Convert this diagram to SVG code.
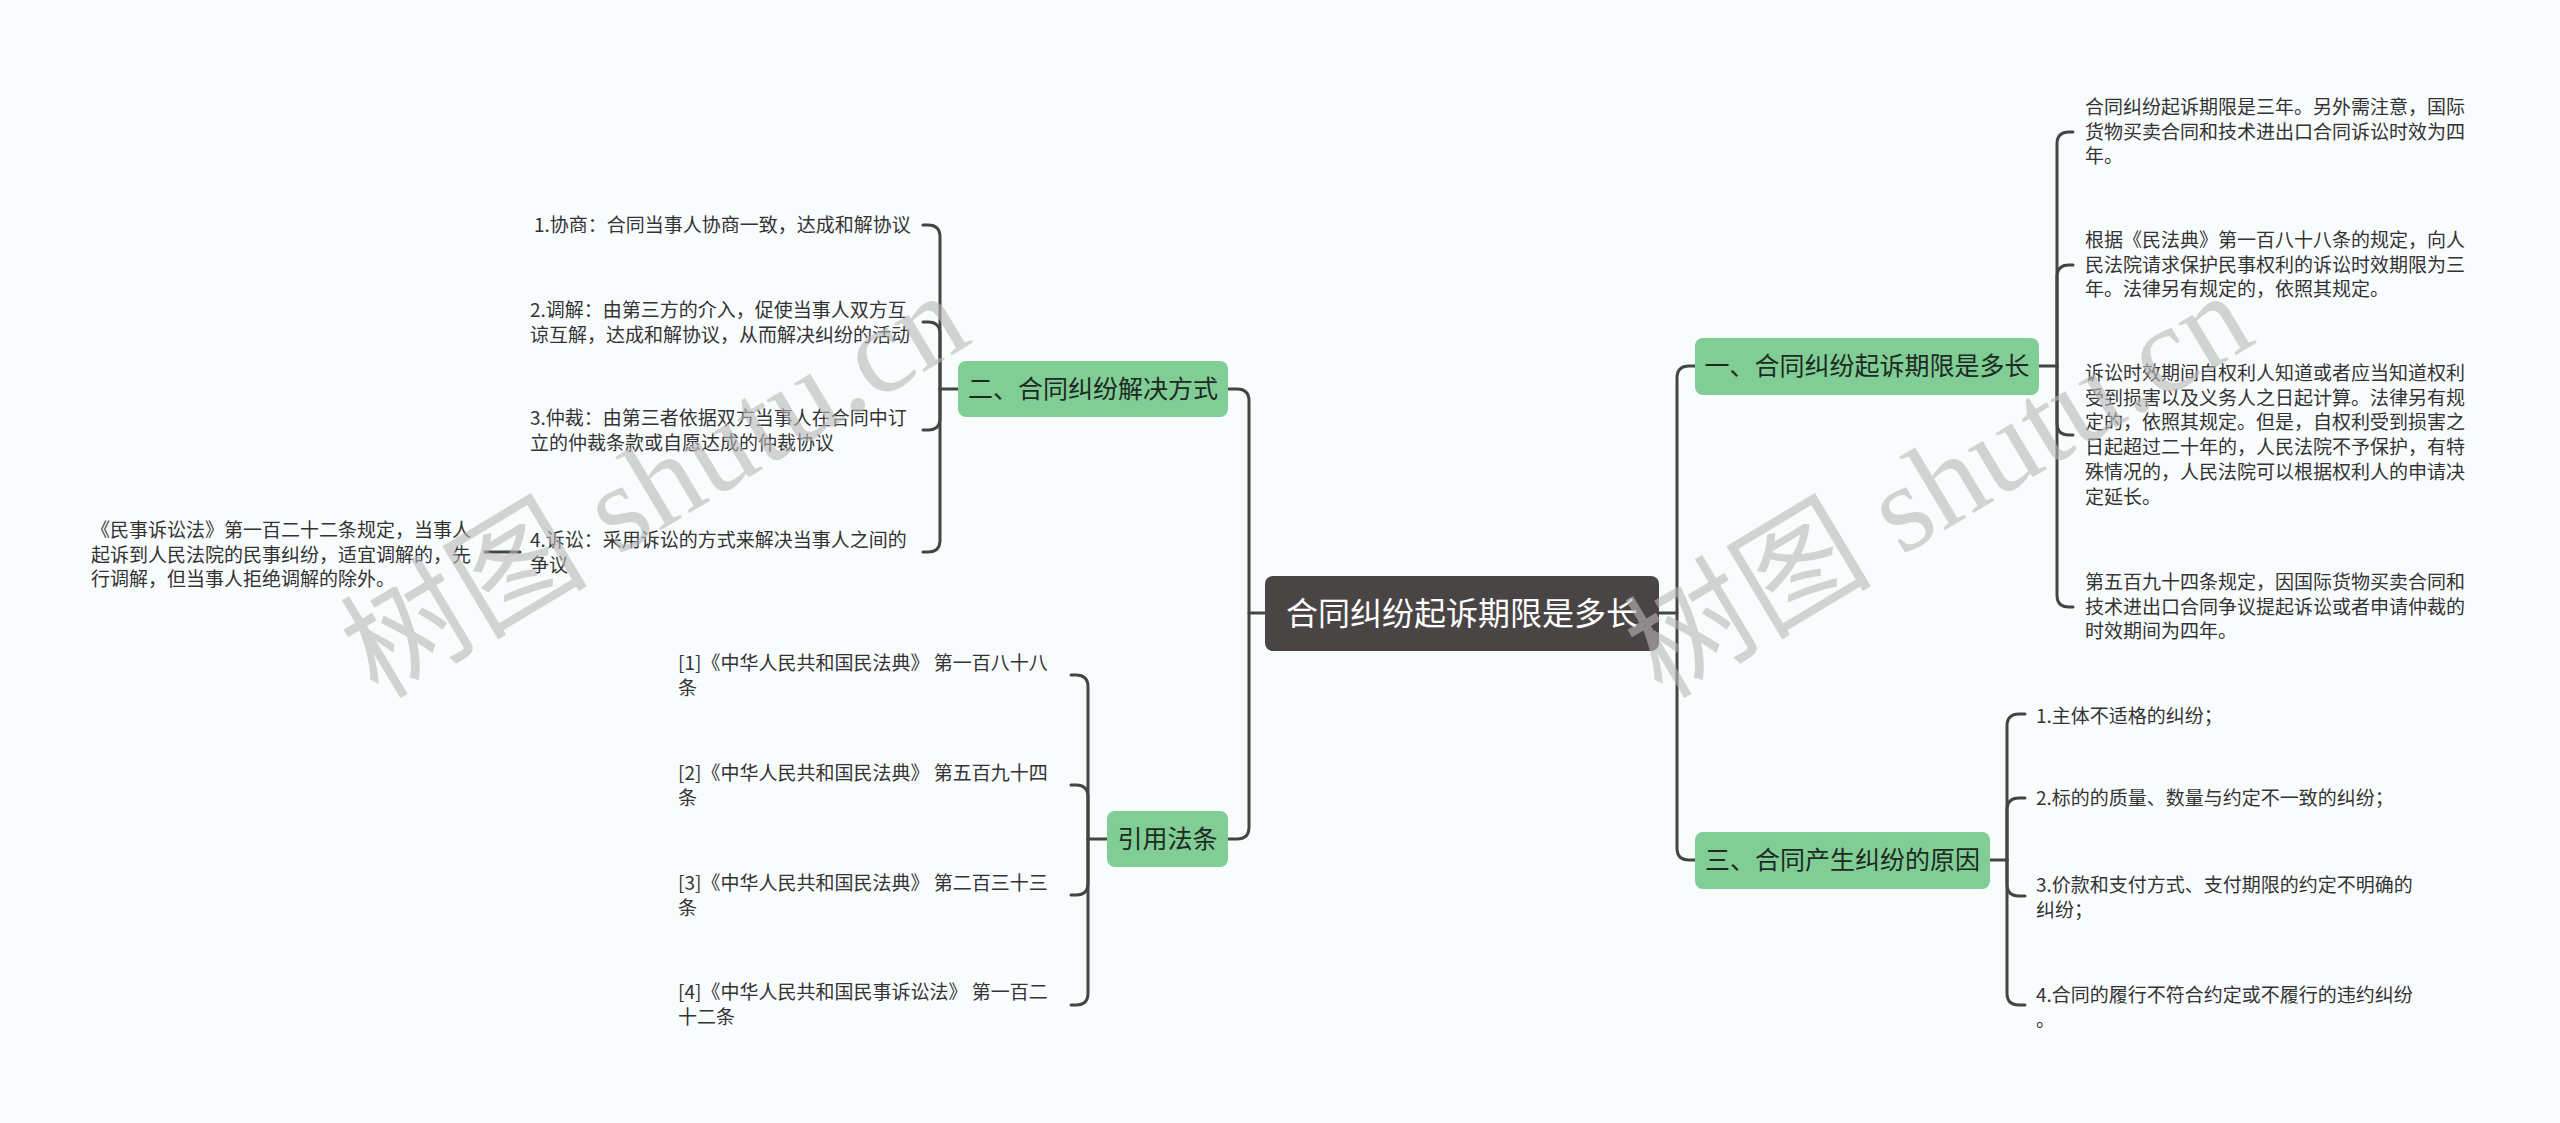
<svg xmlns="http://www.w3.org/2000/svg" width="2560" height="1123" viewBox="0 0 2560 1123">
<style>
.bg{fill:#f9fcfd}
.ln{fill:none;stroke:#444;stroke-width:3;stroke-linecap:round;stroke-linejoin:round}
.green{fill:#80cd95}
.ntxt{font-family:"Noto Sans CJK SC","Noto Sans",sans-serif;font-size:25px;fill:#1e2a22;text-anchor:middle}
.ctxt{font-family:"Noto Sans CJK SC","Noto Sans",sans-serif;font-size:32px;fill:#ffffff;text-anchor:middle}
.t{font-family:"Noto Sans CJK SC","Noto Sans",sans-serif;font-size:19px;fill:#333}
.wm{font-family:"Liberation Serif","Noto Sans CJK SC",serif;font-size:124px;fill:#b8b8b8;opacity:0.6}
</style>
<rect class="bg" x="0" y="0" width="2560" height="1123"/>

<g id="connectors">
  <!-- left trunk -->
  <path class="ln" d="M1265,613 H1249"/>
  <path class="ln" d="M1228,389 H1237 Q1249,389 1249,401 V827 Q1249,839 1237,839 H1228"/>
  <!-- right trunk -->
  <path class="ln" d="M1659,613 H1677"/>
  <path class="ln" d="M1695,366 H1689 Q1677,366 1677,378 V848 Q1677,860 1689,860 H1695"/>
  <!-- node 二 children -->
  <path class="ln" d="M958,389 H940"/>
  <path class="ln" d="M940,389 V237 Q940,225 928,225 H923"/>
  <path class="ln" d="M940,389 V334 Q940,322 928,322 H923"/>
  <path class="ln" d="M940,389 V418 Q940,430 928,430 H923"/>
  <path class="ln" d="M940,389 V540 Q940,552 928,552 H923"/>
  <path class="ln" d="M520,552 H485"/>
  <!-- 引用法条 children -->
  <path class="ln" d="M1107,839 H1088"/>
  <path class="ln" d="M1088,839 V687 Q1088,675 1076,675 H1071"/>
  <path class="ln" d="M1088,839 V797 Q1088,785 1076,785 H1071"/>
  <path class="ln" d="M1088,839 V883 Q1088,895 1076,895 H1071"/>
  <path class="ln" d="M1088,839 V993 Q1088,1005 1076,1005 H1071"/>
  <!-- node 一 children -->
  <path class="ln" d="M2039,366 H2057"/>
  <path class="ln" d="M2057,366 V144 Q2057,132 2069,132 H2073"/>
  <path class="ln" d="M2057,366 V277 Q2057,265 2069,265 H2073"/>
  <path class="ln" d="M2057,366 V423 Q2057,435 2069,435 H2073"/>
  <path class="ln" d="M2057,366 V595 Q2057,607 2069,607 H2073"/>
  <!-- node 三 children -->
  <path class="ln" d="M1990,860 H2007"/>
  <path class="ln" d="M2007,860 V726 Q2007,714 2019,714 H2025"/>
  <path class="ln" d="M2007,860 V810 Q2007,798 2019,798 H2025"/>
  <path class="ln" d="M2007,860 V884 Q2007,896 2019,896 H2025"/>
  <path class="ln" d="M2007,860 V993 Q2007,1005 2019,1005 H2025"/>
</g>

<g id="root">
  <rect x="1265" y="576" width="394" height="75" rx="8" fill="#4a4545"/>
  <text class="ctxt" x="1462" y="625">合同纠纷起诉期限是多长</text>
</g>

<g id="n2">
  <rect class="green" x="958" y="361" width="270" height="56" rx="8"/>
  <text class="ntxt" x="1093" y="398">二、合同纠纷解决方式</text>
</g>
<g id="n2-1"><text class="t" x="534" y="232">1.协商：合同当事人协商一致，达成和解协议</text></g>
<g id="n2-2"><text class="t" x="530" y="317"><tspan x="530">2.调解：由第三方的介入，促使当事人双方互</tspan><tspan x="530" dy="24.5">谅互解，达成和解协议，从而解决纠纷的活动</tspan></text></g>
<g id="n2-3"><text class="t" x="530" y="425"><tspan x="530">3.仲裁：由第三者依据双方当事人在合同中订</tspan><tspan x="530" dy="24.5">立的仲裁条款或自愿达成的仲裁协议</tspan></text></g>
<g id="n2-4"><text class="t" x="530" y="547"><tspan x="530">4.诉讼：采用诉讼的方式来解决当事人之间的</tspan><tspan x="530" dy="24.5">争议</tspan></text></g>
<g id="n2-4-1"><text class="t" x="91" y="537"><tspan x="91">《民事诉讼法》第一百二十二条规定，当事人</tspan><tspan x="91" dy="24.5">起诉到人民法院的民事纠纷，适宜调解的，先</tspan><tspan x="91" dy="24.5">行调解，但当事人拒绝调解的除外。</tspan></text></g>

<g id="n4">
  <rect class="green" x="1107" y="811" width="121" height="56" rx="8"/>
  <text class="ntxt" x="1167.5" y="848">引用法条</text>
</g>
<g id="n4-1"><text class="t" x="678" y="670"><tspan x="678">[1]《中华人民共和国民法典》 第一百八十八</tspan><tspan x="678" dy="24.5">条</tspan></text></g>
<g id="n4-2"><text class="t" x="678" y="780"><tspan x="678">[2]《中华人民共和国民法典》 第五百九十四</tspan><tspan x="678" dy="24.5">条</tspan></text></g>
<g id="n4-3"><text class="t" x="678" y="890"><tspan x="678">[3]《中华人民共和国民法典》 第二百三十三</tspan><tspan x="678" dy="24.5">条</tspan></text></g>
<g id="n4-4"><text class="t" x="678" y="999"><tspan x="678">[4]《中华人民共和国民事诉讼法》 第一百二</tspan><tspan x="678" dy="24.5">十二条</tspan></text></g>

<g id="n1">
  <rect class="green" x="1695" y="338" width="344" height="57" rx="8"/>
  <text class="ntxt" x="1867" y="375">一、合同纠纷起诉期限是多长</text>
</g>
<g id="n1-1"><text class="t" x="2085" y="114"><tspan x="2085">合同纠纷起诉期限是三年。另外需注意，国际</tspan><tspan x="2085" dy="24.7">货物买卖合同和技术进出口合同诉讼时效为四</tspan><tspan x="2085" dy="24.7">年。</tspan></text></g>
<g id="n1-2"><text class="t" x="2085" y="247"><tspan x="2085">根据《民法典》第一百八十八条的规定，向人</tspan><tspan x="2085" dy="24.7">民法院请求保护民事权利的诉讼时效期限为三</tspan><tspan x="2085" dy="24.7">年。法律另有规定的，依照其规定。</tspan></text></g>
<g id="n1-3"><text class="t" x="2085" y="380"><tspan x="2085">诉讼时效期间自权利人知道或者应当知道权利</tspan><tspan x="2085" dy="24.7">受到损害以及义务人之日起计算。法律另有规</tspan><tspan x="2085" dy="24.7">定的，依照其规定。但是，自权利受到损害之</tspan><tspan x="2085" dy="24.7">日起超过二十年的，人民法院不予保护，有特</tspan><tspan x="2085" dy="24.7">殊情况的，人民法院可以根据权利人的申请决</tspan><tspan x="2085" dy="24.7">定延长。</tspan></text></g>
<g id="n1-4"><text class="t" x="2085" y="589"><tspan x="2085">第五百九十四条规定，因国际货物买卖合同和</tspan><tspan x="2085" dy="24.7">技术进出口合同争议提起诉讼或者申请仲裁的</tspan><tspan x="2085" dy="24.7">时效期间为四年。</tspan></text></g>

<g id="n3">
  <rect class="green" x="1695" y="832" width="295" height="57" rx="8"/>
  <text class="ntxt" x="1842.5" y="869">三、合同产生纠纷的原因</text>
</g>
<g id="n3-1"><text class="t" x="2036" y="723">1.主体不适格的纠纷；</text></g>
<g id="n3-2"><text class="t" x="2036" y="805">2.标的的质量、数量与约定不一致的纠纷；</text></g>
<g id="n3-3"><text class="t" x="2036" y="892"><tspan x="2036">3.价款和支付方式、支付期限的约定不明确的</tspan><tspan x="2036" dy="24.7">纠纷；</tspan></text></g>
<g id="n3-4"><text class="t" x="2036" y="1002"><tspan x="2036">4.合同的履行不符合约定或不履行的违约纠纷</tspan><tspan x="2036" dy="24.7">。</tspan></text></g>

<g id="watermark">
  <text class="wm" transform="translate(378,700) rotate(-31)">树图 shutu.cn</text>
  <text class="wm" transform="translate(1662,700) rotate(-31)">树图 shutu.cn</text>
</g>
</svg>
